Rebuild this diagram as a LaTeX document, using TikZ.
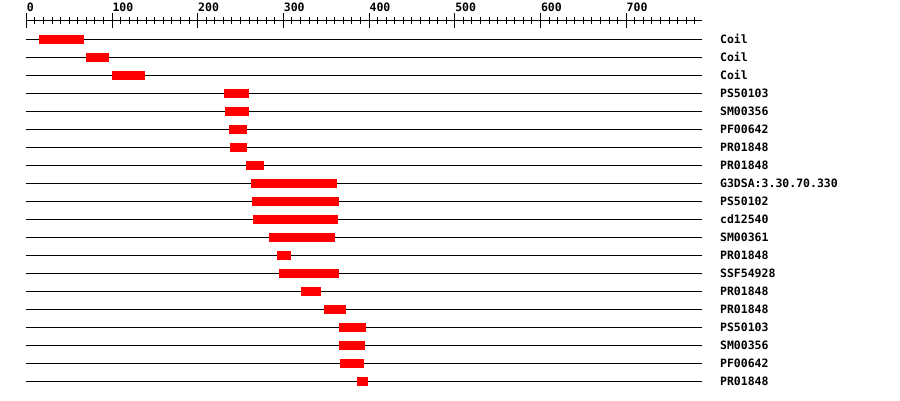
\documentclass[tikz,border=0pt]{standalone}
\usepackage{fontspec}
\setmonofont{DejaVu Sans Mono}
\begin{document}
\begin{tikzpicture}[
    x=0.857pt, y=-1pt, line width=1pt,
    hit/.style={fill=red},
    lbl/.style={font=\ttfamily\bfseries\fontsize{11.5}{12}\selectfont,
      inner sep=0pt, anchor=base west}]
  \useasboundingbox (-26.3pt,0pt) rectangle (873.7pt,-400pt);
  % scale
  \draw (0,20) -- (788,20);
  \foreach \v in {0,10,...,780}
    \draw (\v,17) -- (\v,23.5);
  \foreach \v in {0,100,...,700} {
    \draw (\v,13) -- (\v,28);
    \node[lbl] (t\v) at (\v,11.7) {\v};
  }
  % matches
  \foreach \a/\b/\name [count=\i from 0] in {
      15/67/Coil, 70/97/Coil, 100/138.5/Coil,
      230.7/259.8/PS50103, 231.9/259.8/SM00356,
      236.5/257.5/PF00642, 237.7/257.5/PR01848,
      256.4/277.4/PR01848, 262.2/362.6/G3DSA:3.30.70.330,
      263.4/364.9/PS50102, 264.5/363.7/cd12540,
      283.2/360.2/SM00361, 292.5/308.9/PR01848,
      294.8/364.9/SSF54928, 320.5/343.8/PR01848,
      347.3/373/PR01848, 364.9/396.4/PS50103,
      364.9/395.2/SM00356, 366/394/PF00642,
      385.9/398.8/PR01848} {
    \pgfmathsetmacro\y{39.5+18*\i}
    \draw (0,\y) -- (788,\y);
    \fill[hit] (\a,\y-4.5) rectangle (\b,\y+4.5);
    \node[lbl] (d\i) at (809,\y+3.5) {\name};
  }
\end{tikzpicture}
\end{document}
